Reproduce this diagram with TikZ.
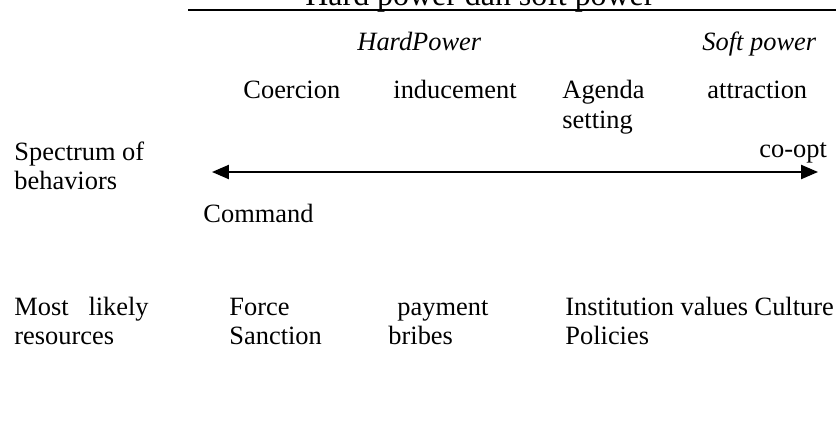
\documentclass[tikz,border=0pt]{standalone}
\usepackage{fontspec}
\setmainfont{Liberation Serif}
\usetikzlibrary{arrows.meta}

\begin{document}
\begin{tikzpicture}[x=0.4545pt, y=-0.4545pt,
        txt/.style={anchor=base west, inner sep=0pt, font=\fontsize{12}{14}\selectfont},
        >={Triangle[length=7.7pt, width=6.4pt]}]
                \useasboundingbox (0,0) rectangle (836,421);

                \node [txt, font=\fontsize{14.5}{17}\selectfont] (title) at (305,5) {Hard power dan soft power};
                \coordinate (rulel) at (188,10);
                \coordinate (ruler) at (836,10);
                \draw [line width=1.1pt] (rulel) -- (ruler);

                \node [txt] (hard) at (357,50) {\textit{HardPower}};
                \node [txt] (soft) at (702,50) {\textit{Soft power}};

                \node [txt] (coercion) at (243,98) {Coercion};
                \node [txt] (inducement) at (393,98) {inducement};
                \node [txt] (agenda) at (562,98) {Agenda};
                \node [txt] (setting) at (562,128) {setting};
                \node [txt] (attraction) at (707,98) {attraction};

                \node [txt] (spectrum) at (14,160) {Spectrum of};
                \node [txt] (behaviors) at (14,189) {behaviors};
                \node [txt] (coopt) at (759,157) {co-opt};
                \node [txt] (command) at (203,222) {Command};

                \coordinate (cmdend) at (212,172);
                \coordinate (cooptend) at (818,172);
                \draw [line width=0.9pt, <->] (cmdend) -- (cooptend);

                \node [txt] (likely) at (14,315) {Most\hspace{6pt} likely};
                \node [txt] (resources) at (14,344) {resources};
                \node [txt] (force) at (229,315) {Force};
                \node [txt] (sanction) at (229,344) {Sanction};
                \node [txt] (payment) at (397,315) {payment};
                \node [txt] (bribes) at (388,344) {bribes};
                \node [txt] (institution) at (565,315) {Institution values Culture};
                \node [txt] (policies) at (565,344) {Policies};
\end{tikzpicture}
\end{document}
